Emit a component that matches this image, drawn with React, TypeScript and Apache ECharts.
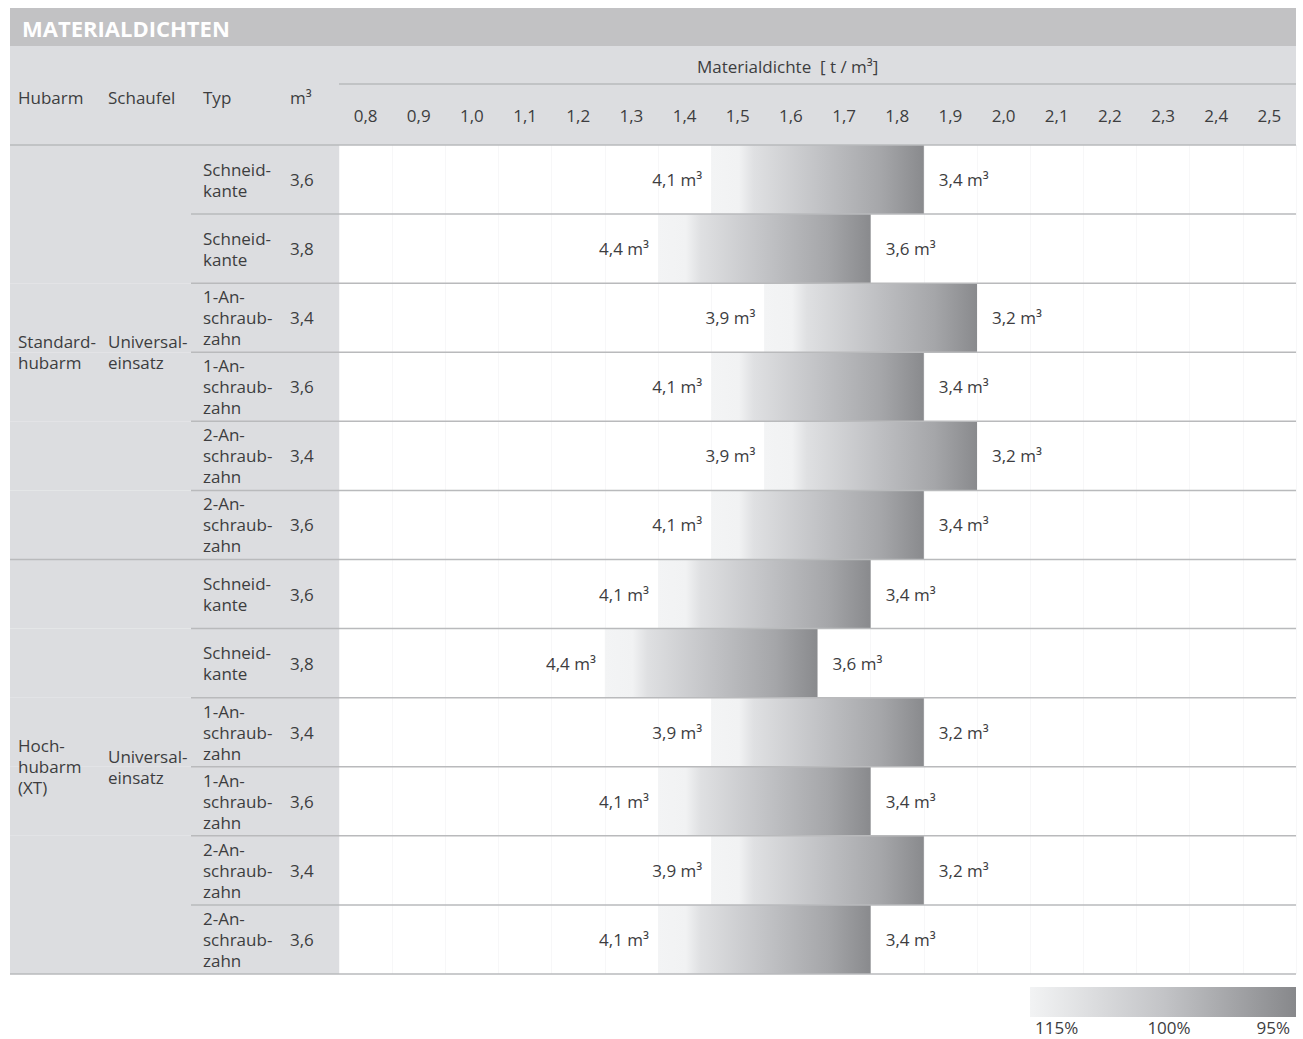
import React, { useEffect, useRef } from 'react';
import * as echarts from 'echarts';

const densityTicks = ['0,8', '0,9', '1,0', '1,1', '1,2', '1,3', '1,4', '1,5', '1,6', '1,7', '1,8', '1,9', '2,0', '2,1', '2,2', '2,3', '2,4', '2,5'];
const typLabels = [
  'Schneid-\nkante', 'Schneid-\nkante', '1-An-\nschraub-\nzahn', '1-An-\nschraub-\nzahn', '2-An-\nschraub-\nzahn', '2-An-\nschraub-\nzahn',
  'Schneid-\nkante', 'Schneid-\nkante', '1-An-\nschraub-\nzahn', '1-An-\nschraub-\nzahn', '2-An-\nschraub-\nzahn', '2-An-\nschraub-\nzahn',
];
const volumes = ['3,6', '3,8', '3,4', '3,6', '3,4', '3,6', '3,6', '3,8', '3,4', '3,6', '3,4', '3,6'];
const barFrom = [1.5, 1.4, 1.6, 1.5, 1.6, 1.5, 1.4, 1.3, 1.5, 1.4, 1.5, 1.4];
const barTo = [1.8, 1.7, 1.9, 1.8, 1.9, 1.8, 1.7, 1.6, 1.8, 1.7, 1.8, 1.7];
const leftLabels = ['4,1 m³', '4,4 m³', '3,9 m³', '4,1 m³', '3,9 m³', '4,1 m³', '4,1 m³', '4,4 m³', '3,9 m³', '4,1 m³', '3,9 m³', '4,1 m³'];
const rightLabels = ['3,4 m³', '3,6 m³', '3,2 m³', '3,4 m³', '3,2 m³', '3,4 m³', '3,4 m³', '3,6 m³', '3,2 m³', '3,4 m³', '3,2 m³', '3,4 m³'];
const groupHubarm = ['Standard-\nhubarm', 'Hoch-\nhubarm\n(XT)'];
const groupSchaufel = ['Universal-\neinsatz', 'Universal-\neinsatz'];
const groupStart = [0, 6];
const groupEnd = [5, 11];
const legendLabels = ['115%', '100%', '95%'];
const headerLabels = ['Hubarm', 'Schaufel', 'Typ', 'm³'];

const FONT = 'Open Sans';
const TXT = '#3d3d3f';
const LINE = '#b9babc';
const GRAY_BG = '#dcdde0';

const rowIds = typLabels.map((_, i) => String(i));

function barGradient() {
  return new echarts.graphic.LinearGradient(0, 0, 1, 0, [
    { offset: 0, color: '#f3f4f5' },
    { offset: 0.13, color: '#f1f2f3' },
    { offset: 0.2, color: '#dfe0e2' },
    { offset: 0.5, color: '#c2c3c6' },
    { offset: 0.8, color: '#a5a6a9' },
    { offset: 1, color: '#898a8d' },
  ]);
}

export default function App() {
  const ref = useRef<HTMLDivElement>(null);
  useEffect(() => {
    if (!ref.current) return;
    const chart = echarts.init(ref.current, undefined, { renderer: 'svg' });
    const gridLeft = 339;
    const option: any = {
      animation: false,
      grid: { left: gridLeft, right: 7, top: 145, bottom: 65 },
      xAxis: [
        { type: 'value', min: 0.75, max: 2.55, show: false },
        {
          type: 'category',
          data: densityTicks,
          position: 'top',
          boundaryGap: true,
          z: 0,
          axisLine: { show: false },
          axisTick: { show: false },
          axisLabel: { interval: 0, margin: 21, color: TXT, fontSize: 17, fontFamily: FONT },
          splitLine: { show: true, interval: 0, lineStyle: { color: '#f7f7f8', width: 1 } },
        },
      ],
      yAxis: { type: 'category', data: rowIds, inverse: true, show: false },
      graphic: [
        { type: 'rect', z: -10, shape: { x: 10, y: 8, width: 1286, height: 38 }, style: { fill: '#c2c2c4' } },
        {
          type: 'text', x: 22, y: 28, z: 5,
          style: { text: 'MATERIALDICHTEN', fill: '#ffffff', font: `bold 22px "${FONT}"`, verticalAlign: 'middle' },
        },
        { type: 'rect', z: -10, shape: { x: 10, y: 46, width: 1286, height: 99 }, style: { fill: GRAY_BG } },
        { type: 'line', z: 5, shape: { x1: gridLeft, y1: 84, x2: 1296, y2: 84 }, style: { stroke: LINE, lineWidth: 1.5 } },
        {
          type: 'text', x: 697, y: 66, z: 5,
          style: { text: 'Materialdichte  [ t / m³]', fill: TXT, font: `17px "${FONT}"`, verticalAlign: 'middle' },
        },
        ...headerLabels.map((t, k) => ({
          type: 'text', x: [18, 108, 203, 290][k], y: 97, z: 5,
          style: { text: t, fill: TXT, font: `17px "${FONT}"`, verticalAlign: 'middle' },
        })),
        {
          type: 'rect', z: 5, shape: { x: 1030, y: 987, width: 266, height: 30 },
          style: {
            fill: new echarts.graphic.LinearGradient(0, 0, 1, 0, [
              { offset: 0, color: '#f2f3f4' },
              { offset: 0.5, color: '#c3c4c7' },
              { offset: 1, color: '#87888b' },
            ]),
          },
        },
        ...legendLabels.map((t, k) => ({
          type: 'text', x: [1035, 1169, 1290][k], y: 1027, z: 5,
          style: { text: t, fill: TXT, font: `17px "${FONT}"`, verticalAlign: 'middle', align: ['left', 'center', 'right'][k] },
        })),
      ],
      series: [
        {
          type: 'custom',
          name: 'table',
          clip: false,
          z: 2,
          data: rowIds.map((_, i) => [0.75, i]),
          encode: { x: 0, y: 1 },
          renderItem: (params: any, api: any) => {
            const i = params.dataIndex;
            const c = api.coord([0.75, api.value(1)]);
            const h = api.size([0, 1])[1];
            const cs = params.coordSys;
            return {
              type: 'group',
              children: [
                { type: 'rect', shape: { x: cs.x - 329, y: c[1] - h / 2, width: 329, height: h }, style: { fill: GRAY_BG } },
                {
                  type: 'text', x: cs.x - 136, y: c[1],
                  style: { text: typLabels[i], fill: TXT, font: `17px "${FONT}"`, lineHeight: 21, verticalAlign: 'middle', align: 'left' },
                },
                {
                  type: 'text', x: cs.x - 49, y: c[1],
                  style: { text: volumes[i], fill: TXT, font: `17px "${FONT}"`, verticalAlign: 'middle', align: 'left' },
                },
              ],
            };
          },
        },
        {
          type: 'custom',
          name: 'bars',
          clip: false,
          z: 3,
          data: barFrom.map((f, i) => [f, barTo[i], i]),
          encode: { x: [0, 1], y: 2 },
          renderItem: (params: any, api: any) => {
            const i = params.dataIndex;
            const p0 = api.coord([api.value(0) - 0.05, api.value(2)]);
            const p1 = api.coord([api.value(1) + 0.05, api.value(2)]);
            const h = api.size([0, 1])[1];
            return {
              type: 'group',
              children: [
                { type: 'rect', shape: { x: p0[0], y: p0[1] - h / 2, width: p1[0] - p0[0], height: h }, style: { fill: barGradient() } },
                {
                  type: 'text', x: p0[0] - 9, y: p0[1],
                  style: { text: leftLabels[i], fill: TXT, font: `17px "${FONT}"`, verticalAlign: 'middle', align: 'right' },
                },
                {
                  type: 'text', x: p1[0] + 15, y: p1[1],
                  style: { text: rightLabels[i], fill: TXT, font: `17px "${FONT}"`, verticalAlign: 'middle', align: 'left' },
                },
              ],
            };
          },
        },
        {
          type: 'custom',
          name: 'lines',
          clip: false,
          z: 5,
          data: rowIds.map((_, i) => [0.75, i]),
          encode: { x: 0, y: 1 },
          renderItem: (params: any, api: any) => {
            const i = params.dataIndex;
            const c = api.coord([0.75, api.value(1)]);
            const h = api.size([0, 1])[1];
            const cs = params.coordSys;
            const isGroupEnd = groupEnd.indexOf(i) >= 0;
            const children: any[] = [
              {
                type: 'line',
                shape: { x1: isGroupEnd ? cs.x - 329 : cs.x - 148, y1: c[1] + h / 2, x2: cs.x + cs.width, y2: c[1] + h / 2 },
                style: { stroke: LINE, lineWidth: 1.5 },
              },
            ];
            if (i === 0) {
              children.push({
                type: 'line',
                shape: { x1: cs.x - 329, y1: c[1] - h / 2, x2: cs.x + cs.width, y2: c[1] - h / 2 },
                style: { stroke: LINE, lineWidth: 1.5 },
              });
            }
            return { type: 'group', children };
          },
        },
        {
          type: 'custom',
          name: 'groups',
          clip: false,
          z: 6,
          data: groupStart.map((s, g) => [0.75, s, groupEnd[g]]),
          encode: { x: 0, y: 1 },
          renderItem: (params: any, api: any) => {
            const g = params.dataIndex;
            const top = api.coord([0.75, api.value(1)]);
            const bot = api.coord([0.75, api.value(2)]);
            const yc = (top[1] + bot[1]) / 2;
            const cs = params.coordSys;
            return {
              type: 'group',
              children: [
                {
                  type: 'text', x: cs.x - 321, y: yc,
                  style: { text: groupHubarm[g], fill: TXT, font: `17px "${FONT}"`, lineHeight: 21, verticalAlign: 'middle', align: 'left' },
                },
                {
                  type: 'text', x: cs.x - 231, y: yc,
                  style: { text: groupSchaufel[g], fill: TXT, font: `17px "${FONT}"`, lineHeight: 21, verticalAlign: 'middle', align: 'left' },
                },
              ],
            };
          },
        },
      ],
    };
    chart.setOption(option);
    return () => chart.dispose();
  }, []);
  return <div ref={ref} style={{ position: 'absolute', left: 0, top: 0, width: 1303, height: 1039 }} />;
}
